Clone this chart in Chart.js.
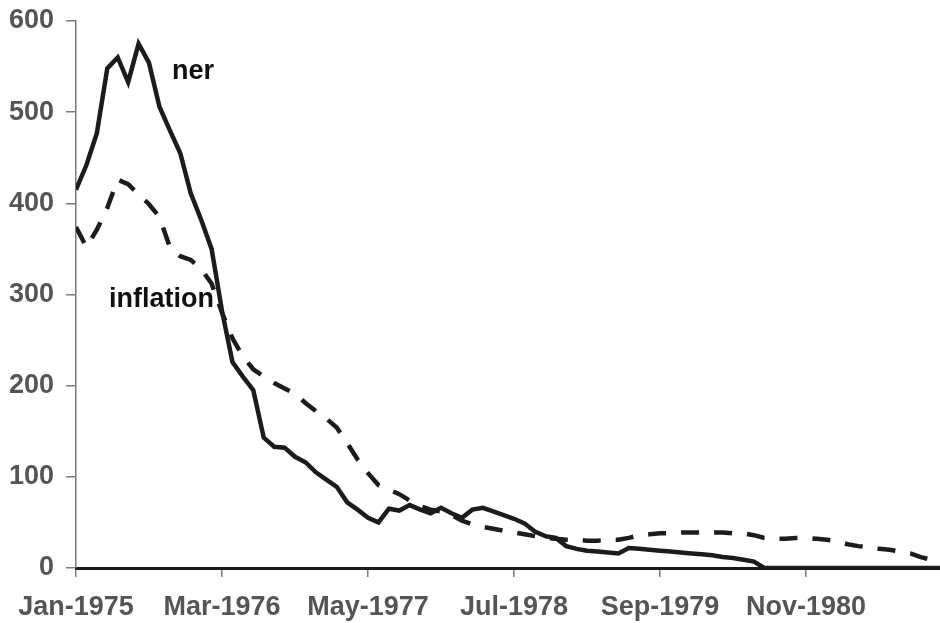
<!DOCTYPE html>
<html>
<head>
<meta charset="utf-8">
<script src="https://cdn.jsdelivr.net/npm/chart.js@4"></script>
<style>
  body { margin: 0; background: #fff; }
  canvas { display: block; }
</style>
</head>
<body>
<canvas id="chart" width="940" height="623"></canvas>
<script>
// monthly series, Jan-1975 .. Dec-1981
const ner = [
    415, 442, 477, 548, 560, 533, 575, 554, 506, 480, 455, 411,
    382, 350, 282, 226, 210, 195, 143, 133, 132, 122, 116, 105,
    97, 89, 72, 64, 55, 50, 65, 63, 69, 64, 60, 66,
    60, 55, 64, 66, 62, 58, 54, 49, 40, 35, 33, 24,
    21, 19, 18, 17, 16, 22, 21, 20, 19, 18, 17, 16,
    15, 14, 12, 11, 9, 7, 0, 0, 0, 0, 0, 0,
    0, 0, 0, 0, 0, 0, 0, 0, 0, 0, 0, 0
];
const inflation = [
    374, 352, 371, 395, 426, 421, 410, 399, 385, 352, 342, 338,
    328, 312, 280, 252, 232, 218, 210, 203, 197, 191, 181, 172,
    164, 154, 137, 119, 104, 91, 86, 81, 74, 68, 64, 62,
    58, 52, 48, 45, 43, 41, 39, 37, 35, 33, 32, 31,
    31, 30, 30, 31, 31, 33, 36, 37, 38, 38, 39, 39,
    39, 39, 39, 38, 38, 36, 33, 32, 32, 33, 33, 32,
    31, 29, 26, 24, 23, 21, 20, 18, 16, 12, 9, 7
];
const tickLabels = ['Jan-1975', 'Mar-1976', 'May-1977', 'Jul-1978', 'Sep-1979', 'Nov-1980'];
const tickEvery = 14; // months between labels

// series names written on the plot (month index, value)
const seriesNotes = [
    { text: 'ner', x: 9.2, y: 536 },
    { text: 'inflation', x: 3.16, y: 286 }
];

const lineColor = '#1c1c1c';
const axisGray = '#7a7a7a';
const labelGray = '#555555';
const font = { family: '"Liberation Sans", Arial, sans-serif', size: 27, weight: 'bold' };

const toPoints = arr => arr.map((v, i) => ({ x: i, y: v }));

const notesPlugin = {
    id: 'notes',
    afterDatasetsDraw(chart) {
        const { ctx, scales } = chart;
        ctx.save();
        ctx.font = `bold ${font.size}px ${font.family}`;
        ctx.fillStyle = '#111';
        ctx.textBaseline = 'alphabetic';
        seriesNotes.forEach(n => {
            ctx.fillText(n.text, scales.x.getPixelForValue(n.x), scales.y.getPixelForValue(n.y));
        });
        ctx.restore();
    }
};

new Chart(document.getElementById('chart'), {
    type: 'line',
    data: {
        datasets: [{
            label: 'ner',
            data: toPoints(ner),
            borderColor: lineColor,
            borderWidth: 4.5,
            pointRadius: 0,
            tension: 0
        }, {
            label: 'inflation',
            data: toPoints(inflation),
            borderColor: lineColor,
            borderWidth: 4.5,
            borderDash: [18, 15],
            pointRadius: 0,
            tension: 0
        }]
    },
    options: {
        responsive: false,
        animation: false,
        devicePixelRatio: 1,
        layout: { padding: { top: 21, right: 0, left: 0, bottom: 0 } },
        plugins: { legend: { display: false }, tooltip: { enabled: false } },
        scales: {
            x: {
                type: 'linear',
                min: 0,
                max: 82.84,
                afterFit: s => { s.height = 55; s.paddingLeft = 0; s.paddingRight = 0; },
                border: { color: '#1a1a1a', width: 3 },
                grid: { drawOnChartArea: false, drawTicks: true, tickLength: 9, color: axisGray, lineWidth: 1.5 },
                ticks: {
                    stepSize: tickEvery,
                    includeBounds: false,
                    autoSkip: false,
                    maxRotation: 0,
                    padding: 14,
                    color: labelGray,
                    font: font,
                    callback: v => tickLabels[Math.round(v / tickEvery)] ?? ''
                }
            },
            y: {
                min: 0,
                max: 600,
                afterFit: s => { s.width = 76; s.paddingTop = 0; s.paddingBottom = 0; },
                border: { color: axisGray, width: 1.5 },
                grid: { drawOnChartArea: false, drawTicks: true, tickLength: 10, color: axisGray, lineWidth: 1.5 },
                ticks: {
                    stepSize: 100,
                    padding: 12,
                    color: labelGray,
                    font: font
                }
            }
        }
    },
    plugins: [notesPlugin]
});
</script>
</body>
</html>
